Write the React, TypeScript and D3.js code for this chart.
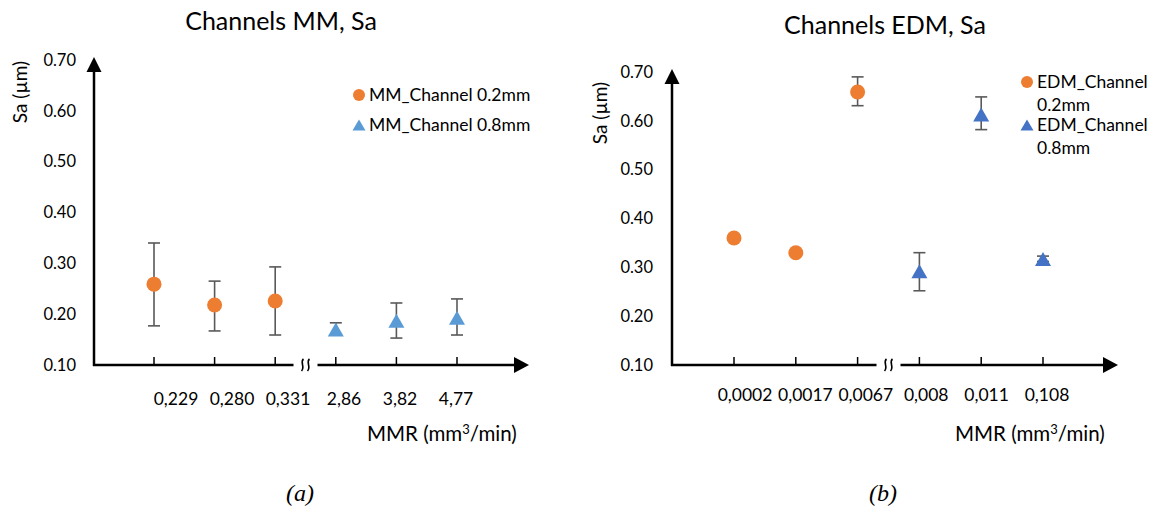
import React from 'react';
import * as d3 from 'd3';

// ---- data ----
const mmCategories = ['0,229', '0,280', '0,331', '2,86', '3,82', '4,77'];
const mm02Cats = ['0,229', '0,280', '0,331'];
const mm02Sa = [0.259, 0.218, 0.226];
const mm02Lo = [0.177, 0.167, 0.159];
const mm02Hi = [0.34, 0.265, 0.293];
const mm08Cats = ['2,86', '3,82', '4,77'];
const mm08Sa = [0.17, 0.187, 0.193];
const mm08Lo = [0.16, 0.153, 0.159];
const mm08Hi = [0.183, 0.222, 0.23];

const edmCategories = ['0,0002', '0,0017', '0,0067', '0,008', '0,011', '0,108'];
const edm02Cats = ['0,0002', '0,0017', '0,0067'];
const edm02Sa = [0.36, 0.33, 0.659];
const edm02Lo = [0.356, 0.326, 0.631];
const edm02Hi = [0.364, 0.334, 0.69];
const edm08Cats = ['0,008', '0,011', '0,108'];
const edm08Sa = [0.292, 0.613, 0.317];
const edm08Lo = [0.252, 0.582, 0.312];
const edm08Hi = [0.33, 0.649, 0.323];

const yTicks = [0.1, 0.2, 0.3, 0.4, 0.5, 0.6, 0.7];

const ORANGE = '#ED7D31';
const FONT = 'Lato, "Open Sans", sans-serif';

type Series = {
  name: string[];
  cats: string[];
  sa: number[];
  lo: number[];
  hi: number[];
  color: string;
  shape: 'circle' | 'triangle';
};

const tri = (w: number, h: number) =>
  `M0,${-h / 2}L${w / 2},${h / 2}L${-w / 2},${h / 2}Z`;

function Marker({ shape, color, size }: { shape: string; color: string; size: number }) {
  if (shape === 'circle') return <circle r={size / 2} fill={color} />;
  return <path d={tri(size + 1, size - 1)} fill={color} />;
}

type PanelProps = {
  title: string;
  titleX: number;
  titleY: number;
  categories: string[];
  series: Series[];
  axisX: number;
  axisEnd: number;
  yTop: number;
  firstX: number;
  lastX: number;
  labelRange: [number, number];
  labelY: number;
  yLabelX: number;
  yLabelY: number;
  yTickRight: number;
  legendX: number;
  legendY: number[];
  legendLineGap: number;
  mmrX: number;
  caption: string;
  captionX: number;
};

function Panel(p: PanelProps) {
  const baseY = 365;
  const y = d3.scaleLinear().domain([0.1, 0.7]).range([baseY, p.yTop]);
  const x = d3.scalePoint<string>().domain(p.categories).range([p.firstX, p.lastX]);
  const xl = d3.scalePoint<string>().domain(p.categories).range(p.labelRange);
  const breakX = ((x(p.categories[2]) as number) + (x(p.categories[3]) as number)) / 2;
  const gap = 12;

  return (
    <g fontFamily={FONT}>
      <text x={p.titleX} y={p.titleY} textAnchor="middle" fontSize={25} fill="#000">
        {p.title}
      </text>

      {/* y labels */}
      {yTicks.map((t) => (
        <text
          key={t}
          x={p.yTickRight}
          y={y(t)}
          dy="0.35em"
          textAnchor="end"
          fontSize={16.5}
          fill="#000"
        >
          {t.toFixed(2)}
        </text>
      ))}
      <text
        transform={`translate(${p.yLabelX},${p.yLabelY}) rotate(-90)`}
        textAnchor="middle"
        dy="0.35em"
        fontSize={19}
        fill="#000"
      >
        Sa (µm)
      </text>

      {/* y axis with arrow */}
      <line x1={p.axisX} x2={p.axisX} y1={baseY + 1} y2={p.yTop + 8} stroke="#000" strokeWidth={2.5} />
      <path
        d={`M${p.axisX},${p.yTop - 3}L${p.axisX + 7.5},${p.yTop + 12}L${p.axisX - 7.5},${p.yTop + 12}Z`}
        fill="#000"
      />

      {/* x axis with break and arrow */}
      <line x1={p.axisX - 1} x2={breakX - gap} y1={baseY} y2={baseY} stroke="#000" strokeWidth={2.5} />
      <line x1={breakX + gap} x2={p.axisEnd - 10} y1={baseY} y2={baseY} stroke="#000" strokeWidth={2.5} />
      <path
        d={`M${p.axisEnd},${baseY}L${p.axisEnd - 15},${baseY - 8}L${p.axisEnd - 15},${baseY + 8}Z`}
        fill="#000"
      />
      {[-3, 3].map((o) => (
        <path
          key={o}
          d={`M${breakX + o + 1},${baseY - 6}C${breakX + o - 3},${baseY - 3} ${breakX + o + 3},${baseY + 2} ${breakX + o - 1},${baseY + 6}`}
          fill="none"
          stroke="#000"
          strokeWidth={1.6}
        />
      ))}
      {p.categories.map((c) => (
        <g key={c}>
          <line
            x1={x(c)}
            x2={x(c)}
            y1={baseY}
            y2={baseY - 8}
            stroke="#000"
            strokeWidth={1.5}
          />
          <text x={xl(c)} y={p.labelY} textAnchor="middle" fontSize={17.5} fill="#000">
            {c}
          </text>
        </g>
      ))}
      <text x={p.mmrX} y={441} fontSize={20.5} fill="#000">
        MMR (mm<tspan dy={-7} fontSize={13}>3</tspan>
        <tspan dy={7}>/min)</tspan>
      </text>

      {/* error bars and markers */}
      {p.series.map((s) => (
        <g key={s.name.join(' ')}>
          {s.cats.map((c, i) => {
            const cx = x(c) as number;
            return (
              <g key={c} stroke="#595959" strokeWidth={1.6}>
                <line x1={cx} x2={cx} y1={y(s.lo[i])} y2={y(s.hi[i])} />
                <line x1={cx - 6} x2={cx + 6} y1={y(s.lo[i])} y2={y(s.lo[i])} />
                <line x1={cx - 6} x2={cx + 6} y1={y(s.hi[i])} y2={y(s.hi[i])} />
              </g>
            );
          })}
          {s.cats.map((c, i) => (
            <g key={c} transform={`translate(${x(c)},${y(s.sa[i])})`}>
              <Marker shape={s.shape} color={s.color} size={15} />
            </g>
          ))}
        </g>
      ))}

      {/* legend */}
      {p.series.map((s, k) => (
        <g key={k} transform={`translate(${p.legendX},${p.legendY[k]})`}>
          <Marker shape={s.shape} color={s.color} size={12} />
          {s.name.map((line, j) => (
            <text key={j} x={10} y={j * p.legendLineGap} dy="0.35em" fontSize={17.5} fill="#000">
              {line}
            </text>
          ))}
        </g>
      ))}

      <text
        x={p.captionX}
        y={501}
        textAnchor="middle"
        fontFamily='"Liberation Serif", "DejaVu Serif", serif'
        fontStyle="italic"
        fontSize={24}
        fill="#000"
      >
        {p.caption}
      </text>
    </g>
  );
}

export default function App() {
  const mmSeries: Series[] = [
    { name: ['MM_Channel 0.2mm'], cats: mm02Cats, sa: mm02Sa, lo: mm02Lo, hi: mm02Hi, color: ORANGE, shape: 'circle' },
    { name: ['MM_Channel 0.8mm'], cats: mm08Cats, sa: mm08Sa, lo: mm08Lo, hi: mm08Hi, color: '#5B9BD5', shape: 'triangle' },
  ];
  const edmSeries: Series[] = [
    { name: ['EDM_Channel', '0.2mm'], cats: edm02Cats, sa: edm02Sa, lo: edm02Lo, hi: edm02Hi, color: ORANGE, shape: 'circle' },
    { name: ['EDM_Channel', '0.8mm'], cats: edm08Cats, sa: edm08Sa, lo: edm08Lo, hi: edm08Hi, color: '#4472C4', shape: 'triangle' },
  ];

  return (
    <svg
      width={1151}
      height={516}
      style={{ position: 'absolute', left: 0, top: 0, background: '#fff' }}
    >
      <rect width={1151} height={516} fill="#fff" />
      <Panel
        title="Channels MM, Sa"
        titleX={281}
        titleY={30}
        categories={mmCategories}
        series={mmSeries}
        axisX={94}
        axisEnd={529}
        yTop={60}
        firstX={154}
        lastX={457}
        labelRange={[176, 456]}
        labelY={405}
        yLabelX={20}
        yLabelY={92}
        yTickRight={76}
        legendX={359}
        legendY={[95, 125]}
        legendLineGap={0}
        mmrX={367}
        caption="(a)"
        captionX={300}
      />
      <Panel
        title="Channels EDM, Sa"
        titleX={885}
        titleY={34}
        categories={edmCategories}
        series={edmSeries}
        axisX={672}
        axisEnd={1118}
        yTop={72}
        firstX={734}
        lastX={1043}
        labelRange={[745, 1047]}
        labelY={401}
        yLabelX={600}
        yLabelY={113}
        yTickRight={653}
        legendX={1027}
        legendY={[82, 125]}
        legendLineGap={23}
        mmrX={955}
        caption="(b)"
        captionX={883}
      />
    </svg>
  );
}
